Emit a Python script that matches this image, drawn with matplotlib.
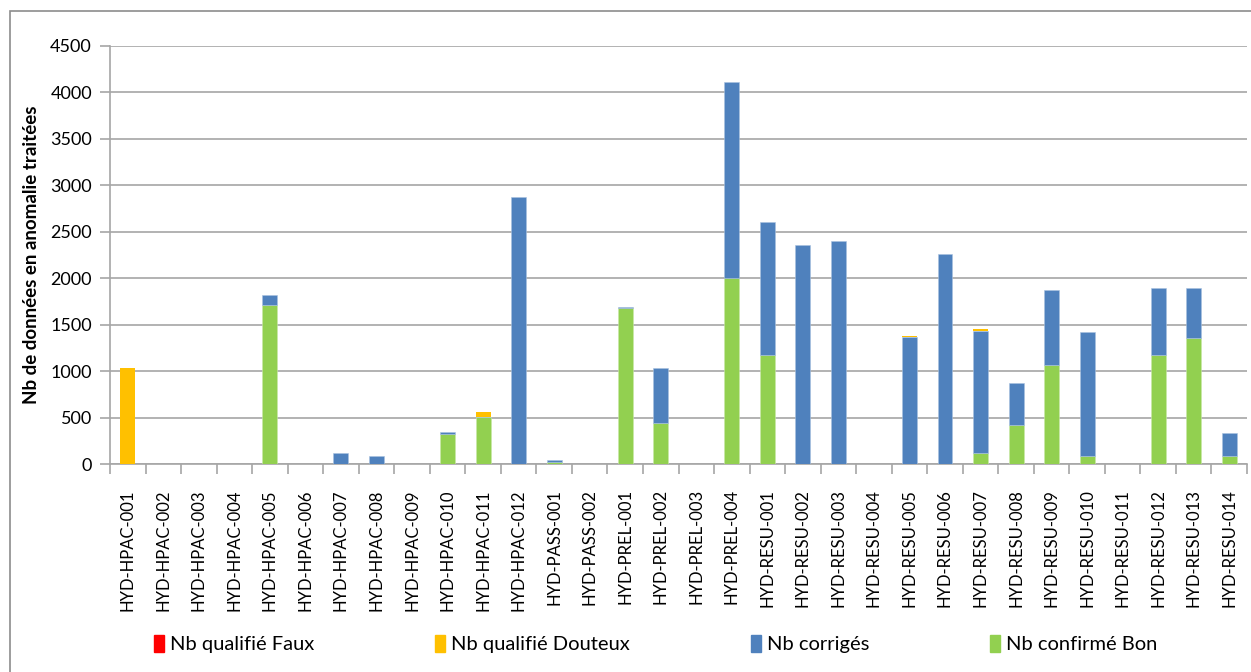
import numpy as np
import matplotlib.pyplot as plt
from matplotlib.patches import Rectangle, Patch

plt.rcParams['font.family'] = ['Lato', 'DejaVu Sans']

# Stations et nombre de données en anomalie traitées
stations = (
    [f"HYD-HPAC-{i:03d}" for i in range(1, 13)]
    + [f"HYD-PASS-{i:03d}" for i in range(1, 3)]
    + [f"HYD-PREL-{i:03d}" for i in range(1, 5)]
    + [f"HYD-RESU-{i:03d}" for i in range(1, 15)]
)

nb_bon = [0, 0, 0, 0, 1710, 0, 0, 0, 0, 330, 505, 0,
          30, 0,
          1680, 440, 0, 2000,
          1180, 0, 0, 0, 0, 0, 125, 420, 1070, 85, 0, 1180, 1355, 85]
nb_corriges = [0, 0, 0, 0, 105, 0, 125, 85, 0, 15, 0, 2870,
               15, 0,
               15, 590, 0, 2110,
               1420, 2355, 2405, 0, 1368, 2260, 1310, 450, 800, 1335, 0, 715, 540, 255]
nb_douteux = [1040, 0, 0, 0, 0, 0, 0, 0, 0, 0, 55, 0,
              0, 0,
              0, 0, 0, 0,
              0, 0, 0, 0, 14, 0, 15, 0, 0, 0, 0, 0, 0, 0]
nb_faux = [0] * len(stations)

c_faux = "#FF0000"
c_douteux = "#FFC000"
c_corr = "#4F81BD"
c_bon = "#92D050"
grid_col = "#A6A6A6"

fig = plt.figure(figsize=(12.51, 6.72), dpi=100)
ax = fig.add_axes([110 / 1251, 1 - 464.3 / 672, 1137 / 1251, (464.3 - 45.7) / 672])

x = np.arange(len(stations))
w = 0.42
bon = np.array(nb_bon)
corr = np.array(nb_corriges)
dout = np.array(nb_douteux)
faux = np.array(nb_faux)

ax.bar(x, bon, w, color=c_bon, edgecolor="#C8E8A8", linewidth=0.4, zorder=3)
ax.bar(x, corr, w, bottom=bon, color=c_corr, edgecolor="#A9C2E0", linewidth=0.4, zorder=3)
ax.bar(x, dout, w, bottom=bon + corr, color=c_douteux, linewidth=0, zorder=3)
ax.bar(x, faux, w, bottom=bon + corr + dout, color=c_faux, linewidth=0, zorder=3)

ax.set_xlim(-0.5, len(stations) - 0.5)
ax.set_ylim(0, 4500)
ax.set_yticks(np.arange(0, 4501, 500))
ax.yaxis.grid(True, color=grid_col, linewidth=1.2, zorder=0)
ax.set_axisbelow(True)

ax.set_xticks(x)
ax.set_xticklabels(stations, rotation=90, fontsize=12, color="#000000")
ax.set_xticks(np.arange(-0.5, len(stations)), minor=True)
ax.tick_params(axis="x", which="major", length=0, pad=18)
ax.tick_params(axis="x", which="minor", length=7, color=grid_col, width=1.2)
ax.tick_params(axis="y", length=7, color=grid_col, width=1.2, labelsize=13, pad=6)

for side in ["top", "right"]:
    ax.spines[side].set_visible(False)
for side in ["left", "bottom"]:
    ax.spines[side].set_color(grid_col)
    ax.spines[side].set_linewidth(1.2)

ax.set_ylabel("Nb de données en anomalie traitées", fontsize=13.5, fontweight="bold", labelpad=7)

handles = [Patch(color=c_faux), Patch(color=c_douteux), Patch(color=c_corr), Patch(color=c_bon)]
labels = ["Nb qualifié Faux", "Nb qualifié Douteux", "Nb corrigés", "Nb confirmé Bon"]
fig.legend(handles, labels, loc="center", bbox_to_anchor=(656 / 1251, 1 - 644 / 672), ncol=4,
           frameon=False, fontsize=14.5, handlelength=0.5, handleheight=0.9,
           handletextpad=0.3, columnspacing=6.0)

# cadre de la zone de graphique
fig.patches.append(Rectangle((10 / 1251, -0.1), 1.2, 1 - 11 / 672 + 0.1, transform=fig.transFigure,
                             fill=False, edgecolor="#8C8C8C", linewidth=1.2))

fig.savefig("out.png", dpi=100)
